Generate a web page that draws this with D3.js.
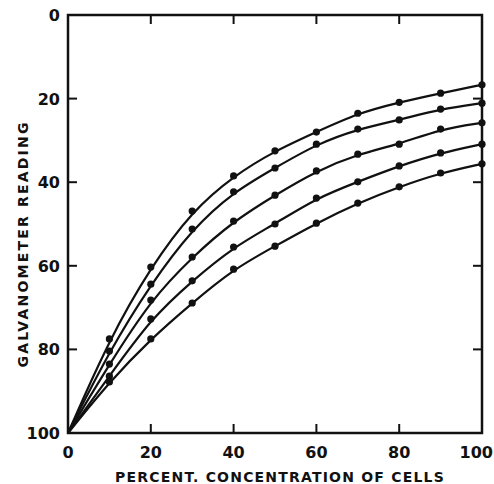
<!DOCTYPE html>
<html>
<head>
<meta charset="utf-8">
<script src="https://cdn.jsdelivr.net/npm/d3@7"></script>
<style>
  body { margin: 0; background: #fff; }
  text { font-family: "DejaVu Sans", sans-serif; font-weight: bold; fill: #111; }
</style>
</head>
<body>
<svg id="chart" width="494" height="484"></svg>
<script>
// percent concentration of cells
const concentration = [0, 10, 20, 30, 40, 50, 60, 70, 80, 90, 100];

// galvanometer readings, one array per curve (top to bottom)
const curveA = [100, 77.5, 60.3, 46.9, 38.5, 32.5, 28.0, 23.5, 20.9, 18.7, 16.7];
const curveB = [100, 80.4, 64.4, 51.2, 42.3, 36.6, 30.9, 27.3, 25.1, 22.5, 21.1];
const curveC = [100, 83.5, 68.2, 57.9, 49.3, 43.1, 37.3, 33.3, 30.9, 27.3, 25.8];
const curveD = [100, 86.4, 72.7, 63.6, 55.5, 50.0, 43.8, 39.9, 36.1, 33.0, 30.9];
const curveE = [100, 87.8, 77.5, 68.9, 60.8, 55.3, 49.8, 45.0, 41.1, 37.8, 35.6];
const series = [curveA, curveB, curveC, curveD, curveE];

const tickValues = [0, 20, 40, 60, 80, 100];

const m = {top: 15, right: 12, bottom: 51, left: 68};
const w = 494 - m.left - m.right;
const h = 484 - m.top - m.bottom;

const svg = d3.select('#chart');
const g = svg.append('g')
    .attr('transform', 'translate(' + m.left + ',' + m.top + ')');

const x = d3.scaleLinear().domain([0, 100]).range([0, w]);
const y = d3.scaleLinear().domain([0, 100]).range([0, h]);

// frame
g.append('rect')
    .attr('width', w)
    .attr('height', h)
    .attr('fill', 'none')
    .attr('stroke', '#111')
    .attr('stroke-width', 2.5);

// inward ticks on all sides
const inner = tickValues.slice(1, -1);
g.selectAll('.tb').data(inner).enter().append('line')
    .attr('x1', d => x(d)).attr('x2', d => x(d))
    .attr('y1', 0).attr('y2', 9)
    .attr('stroke', '#111').attr('stroke-width', 2);
g.selectAll('.tbb').data(inner).enter().append('line')
    .attr('x1', d => x(d)).attr('x2', d => x(d))
    .attr('y1', h).attr('y2', h - 9)
    .attr('stroke', '#111').attr('stroke-width', 2);
g.selectAll('.tl').data(inner).enter().append('line')
    .attr('y1', d => y(d)).attr('y2', d => y(d))
    .attr('x1', 0).attr('x2', 9)
    .attr('stroke', '#111').attr('stroke-width', 2);
g.selectAll('.tr').data(inner).enter().append('line')
    .attr('y1', d => y(d)).attr('y2', d => y(d))
    .attr('x1', w).attr('x2', w - 9)
    .attr('stroke', '#111').attr('stroke-width', 2);

// tick labels
g.selectAll('.xl').data(tickValues).enter().append('text')
    .attr('x', d => d === 100 ? w + 11 : x(d))
    .attr('y', h + 25)
    .attr('text-anchor', d => d === 100 ? 'end' : 'middle')
    .style('font-size', '16px')
    .text(d => d);

g.selectAll('.yl').data(tickValues).enter().append('text')
    .attr('x', -8)
    .attr('y', d => y(d) + 6)
    .attr('text-anchor', 'end')
    .style('font-size', '16px')
    .text(d => d);

// axis titles
g.append('text')
    .attr('x', w / 2 + 5)
    .attr('y', h + 49)
    .attr('text-anchor', 'middle')
    .style('font-size', '14px')
    .style('letter-spacing', '1.2px')
    .text('PERCENT. CONCENTRATION OF CELLS');

g.append('text')
    .attr('transform', 'translate(' + (-40) + ',' + (h / 2 + 20) + ') rotate(-90)')
    .attr('text-anchor', 'middle')
    .style('font-size', '14px')
    .style('letter-spacing', '2.2px')
    .text('GALVANOMETER READING');

// smoothed curves through the readings
const line = d3.line()
    .x((d, i) => x(concentration[i]))
    .y(d => y(d))
    .curve(d3.curveBasis);

g.selectAll('.curve').data(series).enter().append('path')
    .attr('d', d => line(d))
    .attr('fill', 'none')
    .attr('stroke', '#111')
    .attr('stroke-width', 2.2);

// measured points
series.forEach(s => {
  g.selectAll(null).data(s.slice(1)).enter().append('circle')
      .attr('cx', (d, i) => x(concentration[i + 1]))
      .attr('cy', d => y(d))
      .attr('r', 3.6)
      .attr('fill', '#111');
});
</script>
</body>
</html>
